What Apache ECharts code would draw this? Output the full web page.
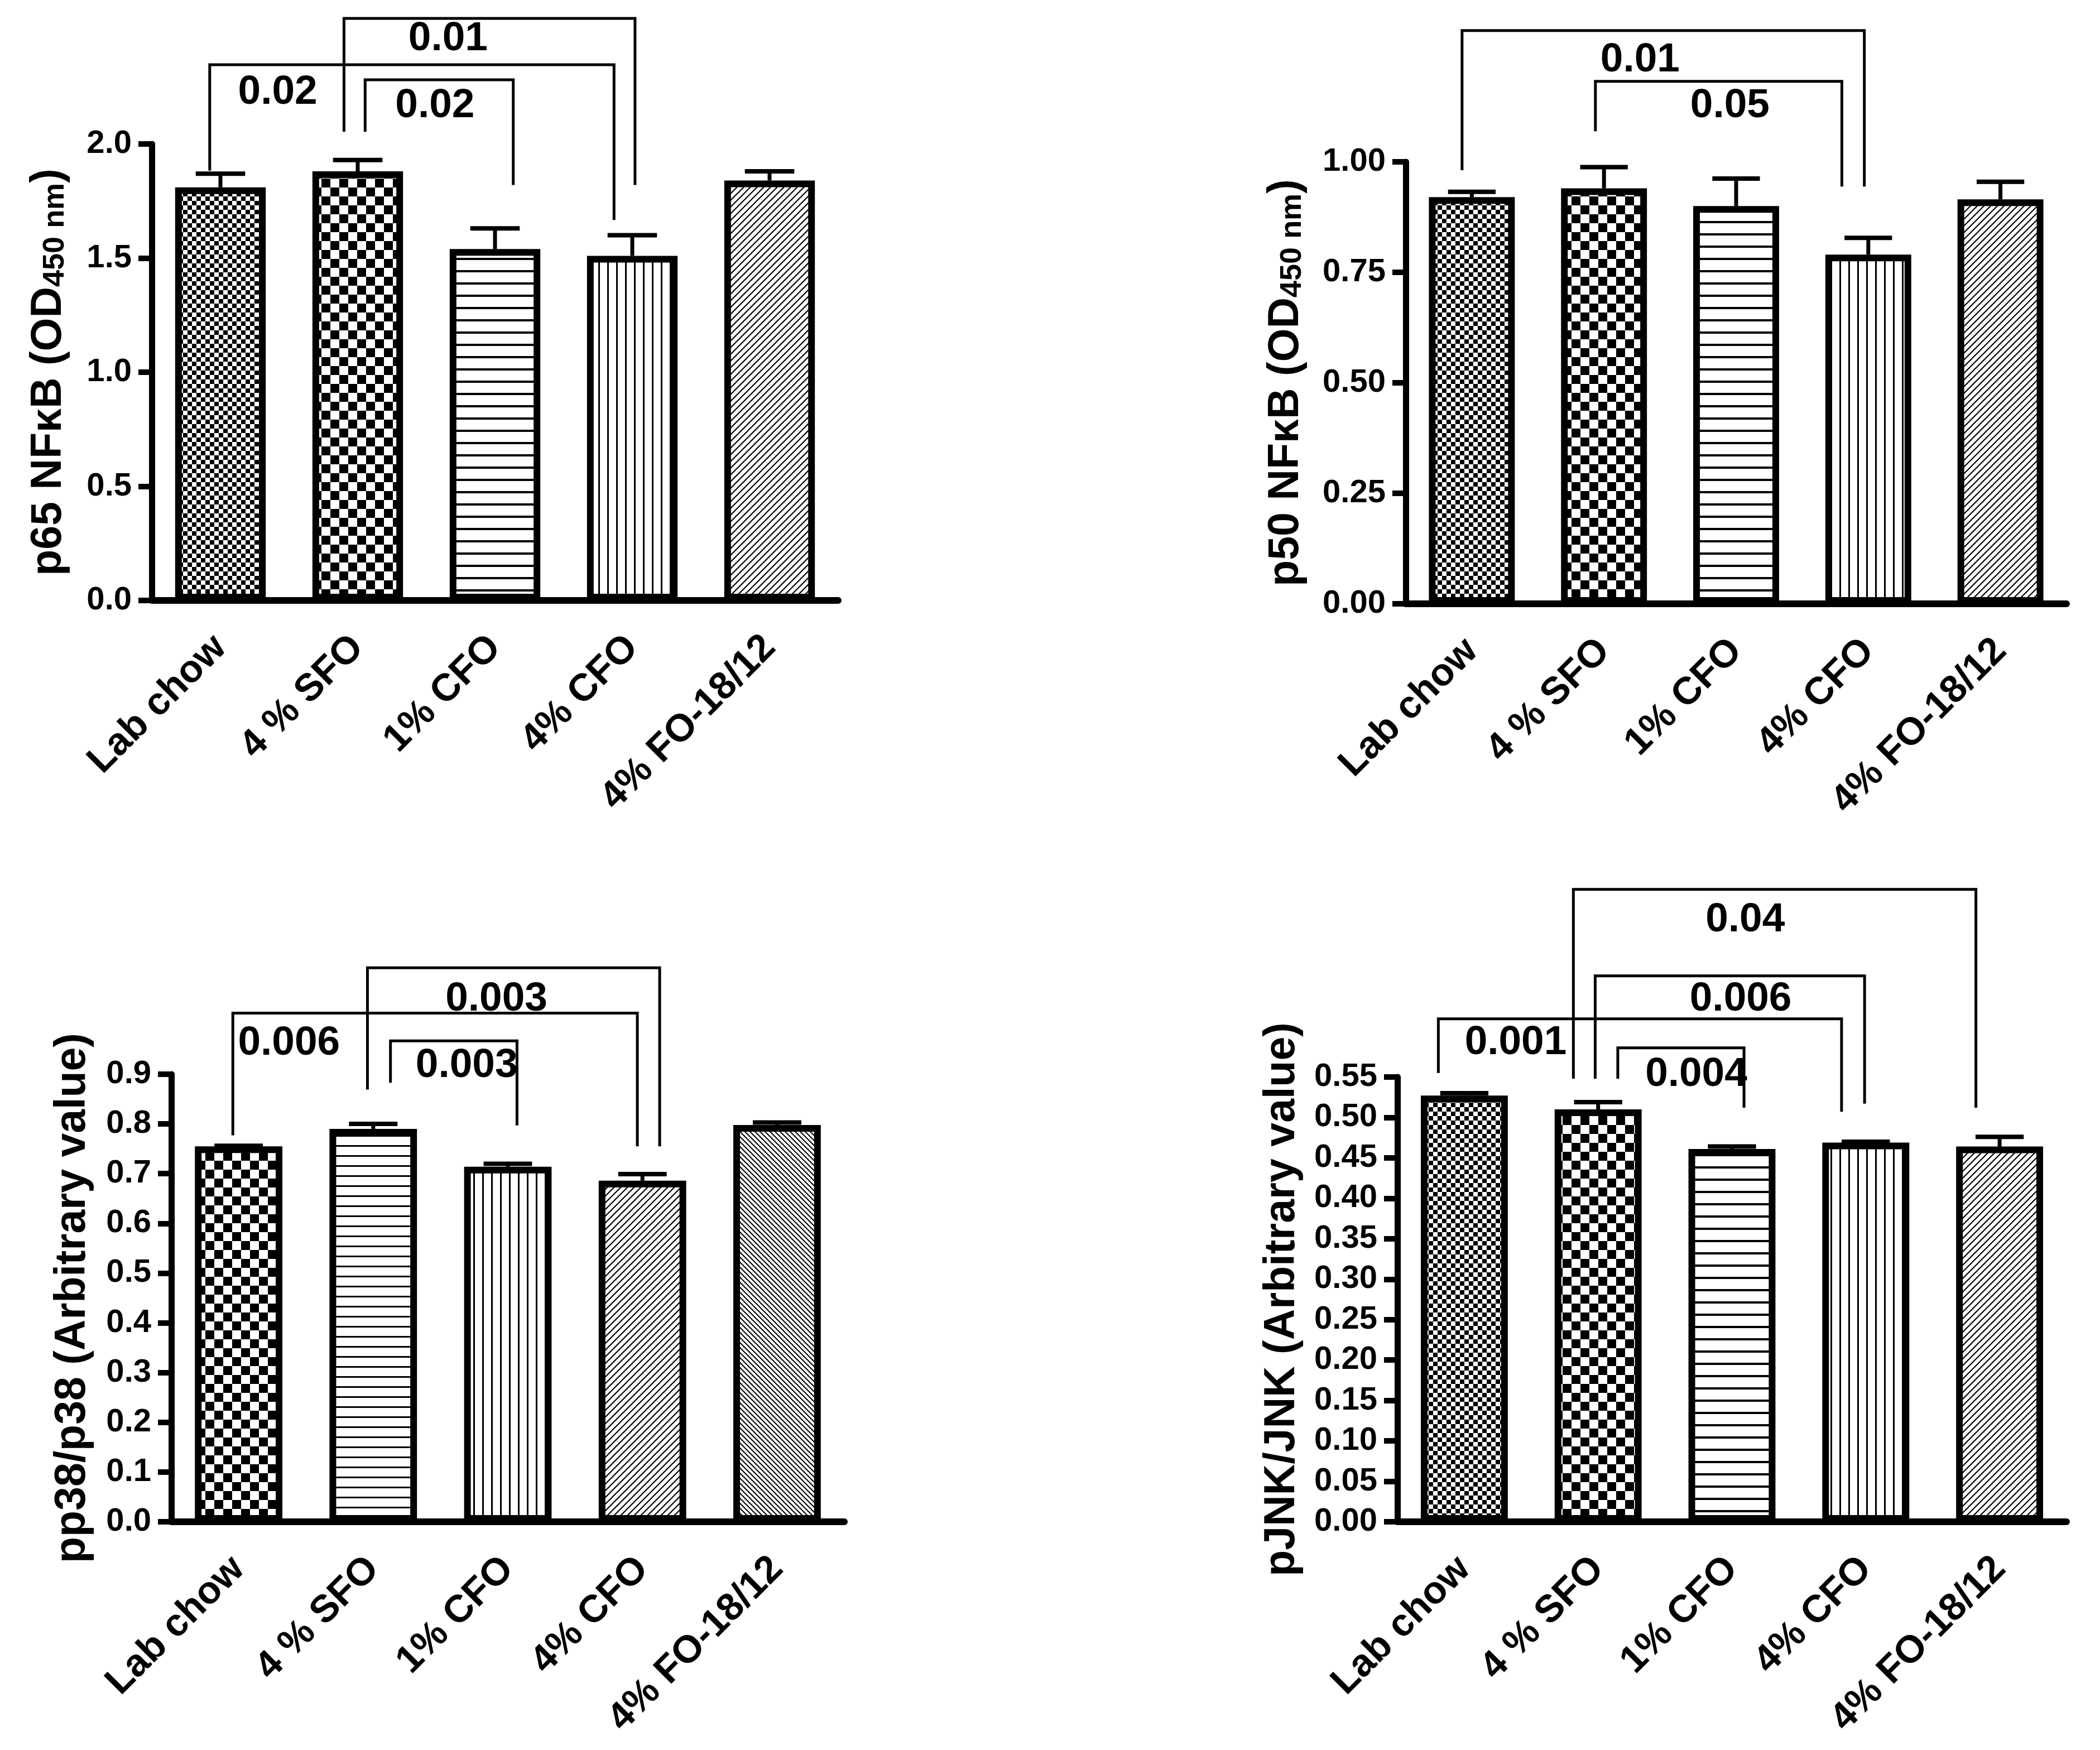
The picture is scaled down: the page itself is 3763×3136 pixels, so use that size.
<!DOCTYPE html>
<html lang="en">
<head>
<meta charset="UTF-8">
<title>NFkB / MAPK bar charts</title>
<style>
  html, body { margin: 0; padding: 0; background: #fff; }
  #main { width: 3763px; height: 3136px; }
</style>
</head>
<body>
<div id="main"></div>
<script src="https://cdn.jsdelivr.net/npm/echarts@6/dist/echarts.min.js"></script>
<script>
// ---- data ----
var categories = ['Lab chow', '4 % SFO', '1% CFO', '4% CFO', '4% FO-18/12'];

var p65Mean = [1.81, 1.88, 1.54, 1.51, 1.84];
var p65Sem = [0.06, 0.05, 0.09, 0.09, 0.04];
var p65Ticks = ['0.0', '0.5', '1.0', '1.5', '2.0'];
var p65Pairs = [[0, 3], [1, 3], [1, 2]];
var p65P = ['0.02', '0.01', '0.02'];

var p50Mean = [0.92, 0.94, 0.90, 0.79, 0.915];
var p50Sem = [0.012, 0.048, 0.062, 0.038, 0.04];
var p50Ticks = ['0.00', '0.25', '0.50', '0.75', '1.00'];
var p50Pairs = [[0, 3], [1, 3]];
var p50P = ['0.01', '0.05'];

var p38Mean = [0.755, 0.79, 0.714, 0.686, 0.798];
var p38Sem = [0.001, 0.01, 0.006, 0.013, 0.005];
var p38Ticks = ['0.0', '0.1', '0.2', '0.3', '0.4', '0.5', '0.6', '0.7', '0.8', '0.9'];
var p38Pairs = [[0, 3], [1, 3], [1, 2]];
var p38P = ['0.006', '0.003', '0.003'];

var jnkMean = [0.527, 0.51, 0.461, 0.469, 0.464];
var jnkSem = [0.003, 0.009, 0.003, 0.001, 0.012];
var jnkTicks = ['0.00', '0.05', '0.10', '0.15', '0.20', '0.25', '0.30', '0.35', '0.40', '0.45', '0.50', '0.55'];
var jnkPairs = [[1, 4], [1, 3], [0, 3], [1, 2]];
var jnkP = ['0.04', '0.006', '0.001', '0.004'];

// ---- hatch fills ----
function makeCanvas(w, h) {
    var c = document.createElement('canvas');
    c.width = w; c.height = h;
    var ctx = c.getContext('2d');
    ctx.fillStyle = '#fff';
    ctx.fillRect(0, 0, w, h);
    ctx.fillStyle = '#000';
    ctx.strokeStyle = '#000';
    return { c: c, ctx: ctx };
}
function checker(cell) {
    var k = makeCanvas(cell * 2, cell * 2);
    k.ctx.fillRect(0, 0, cell, cell);
    k.ctx.fillRect(cell, cell, cell, cell);
    return k.c;
}
function hLines(period, w) {
    var k = makeCanvas(8, period);
    k.ctx.fillRect(0, 0, 8, w);
    return k.c;
}
function vLines(period, w) {
    var k = makeCanvas(period, 8);
    k.ctx.fillRect(0, 0, w, 8);
    return k.c;
}
function diag(period, w, up) {
    var k = makeCanvas(period, period);
    var ctx = k.ctx, p = period;
    ctx.lineWidth = w;
    ctx.beginPath();
    if (up) {
        ctx.moveTo(-p, p * 2); ctx.lineTo(p * 2, -p);
        ctx.moveTo(-p, p); ctx.lineTo(p, -p);
        ctx.moveTo(0, p * 2); ctx.lineTo(p * 2, 0);
    } else {
        ctx.moveTo(-p, -p); ctx.lineTo(p * 2, p * 2);
        ctx.moveTo(-p, 0); ctx.lineTo(p, p * 2);
        ctx.moveTo(0, -p); ctx.lineTo(p * 2, p);
    }
    ctx.stroke();
    return k.c;
}
var fills = {
    fine: checker(8),
    coarse: checker(16),
    hline: hLines(22, 4),
    hlineB: hLines(18, 3),
    vline: vLines(16, 3),
    diagUp: diag(12, 2.2, true),
    diagDown: diag(9, 2, false)
};

var FONT = '"Liberation Sans", Arial, Helvetica, sans-serif';

var panels = [
    {
        grid: { left: 272, top: 258, width: 1230, height: 818 },
        max: 2, interval: 0.5, ticks: p65Ticks, barWidth: '66%',
        name: '{a|p65 NFκB (OD}{s|450 nm}{a|)}', nameGap: 146,
        mean: p65Mean, sem: p65Sem, pairs: p65Pairs, pText: p65P,
        fill: ['fine', 'coarse', 'hline', 'vline', 'diagUp'],
        // bracket level, leg ends, leg offsets (band), label position (band index, value)
        marks: [
            { level: 2.347, ends: [1.883, 1.667], off: [-0.078, -0.133], at: [0.417, 2.225] },
            { level: 2.550, ends: [2.054, 1.82], off: [-0.10, 0.02], at: [1.658, 2.459] },
            { level: 2.281, ends: [2.054, 1.82], off: [0.054, 0.133], at: [1.5625, 2.166] }
        ]
    },
    {
        grid: { left: 2519, top: 290, width: 1184, height: 792 },
        max: 1, interval: 0.25, ticks: p50Ticks, barWidth: '65%',
        name: '{a|p50 NFκB (OD}{s|450 nm}{a|)}', nameGap: 176,
        mean: p50Mean, sem: p50Sem, pairs: p50Pairs, pText: p50P,
        fill: ['fine', 'coarse', 'hline', 'vline', 'diagUp'],
        marks: [
            { level: 1.297, ends: [0.981, 0.944], off: [-0.074, -0.03], at: [1.273, 1.230] },
            { level: 1.182, ends: [1.069, 0.944], off: [-0.065, -0.2], at: [1.953, 1.127] }
        ]
    },
    {
        grid: { left: 307, top: 1925, width: 1206, height: 802 },
        max: 0.9, interval: 0.1, ticks: p38Ticks, barWidth: '65%',
        name: '{a|pp38/p38 (Arbitrary value)}', nameGap: 138,
        mean: p38Mean, sem: p38Sem, pairs: p38Pairs, pText: p38P,
        fill: ['coarse', 'hlineB', 'vline', 'diagUp', 'diagDown'],
        marks: [
            { level: 1.0228, ends: [0.777, 0.755], off: [-0.043, -0.038], at: [0.374, 0.962] },
            { level: 1.114, ends: [0.869, 0.755], off: [-0.043, 0.128], at: [1.915, 1.051] },
            { level: 0.967, ends: [0.883, 0.797], off: [0.128, 0.068], at: [1.694, 0.917] }
        ]
    },
    {
        grid: { left: 2504, top: 1930, width: 1199, height: 797 },
        max: 0.55, interval: 0.05, ticks: jnkTicks, barWidth: '65%',
        name: '{a|pJNK/JNK (Arbitrary value)}', nameGap: 168,
        mean: jnkMean, sem: jnkSem, pairs: jnkPairs, pText: jnkP,
        fill: ['fine', 'coarse', 'hline', 'vline', 'diagUp'],
        marks: [
            { level: 0.782, ends: [0.548, 0.512], off: [-0.185, -0.177], at: [2.099, 0.744] },
            { level: 0.675, ends: [0.548, 0.517], off: [-0.022, -0.009], at: [2.065, 0.646] },
            { level: 0.622, ends: [0.555, 0.507], off: [-0.194, -0.181], at: [0.384, 0.592] },
            { level: 0.586, ends: [0.548, 0.512], off: [0.147, 0.09], at: [1.733, 0.553] }
        ]
    }
];

function errorBarItem(params, api) {
    var idx = api.value(0), m = api.value(1), e = api.value(2);
    var band = api.size([1, 0])[0];
    var p0 = api.coord([idx, m]);
    var p1 = api.coord([idx, m + e]);
    var half = band * 0.18;
    return {
        type: 'group',
        children: [
            { type: 'line', shape: { x1: p0[0], y1: p0[1], x2: p1[0], y2: p1[1] },
              style: { stroke: '#000', lineWidth: 7 } },
            { type: 'line', shape: { x1: p1[0] - half, y1: p1[1], x2: p1[0] + half, y2: p1[1] },
              style: { stroke: '#000', lineWidth: 8 } }
        ]
    };
}

function bracketRenderer(panel) {
    return function (params, api) {
        var i = params.dataIndex;
        var mk = panel.marks[i];
        var from = api.value(0), to = api.value(1);
        var band = api.size([1, 0])[0];
        var a = api.coord([from, mk.level]);
        var b = api.coord([to, mk.level]);
        var x1 = a[0] + mk.off[0] * band;
        var x2 = b[0] + mk.off[1] * band;
        var y1 = api.coord([from, mk.ends[0]])[1];
        var y2 = api.coord([to, mk.ends[1]])[1];
        var t0 = api.coord([0, mk.at[1]]);
        return {
            type: 'group',
            children: [
                { type: 'polyline', shape: { points: [[x1, y1], [x1, a[1]], [x2, a[1]], [x2, y2]] },
                  style: { stroke: '#000', lineWidth: 5, fill: null } },
                { type: 'text', x: t0[0] + mk.at[0] * band, y: t0[1],
                  style: { text: panel.pText[i], fontSize: 73, fontWeight: 'bold', fontFamily: FONT,
                           fill: '#000', align: 'center', verticalAlign: 'middle' } }
            ]
        };
    };
}

var option = { animation: false, backgroundColor: '#fff', grid: [], xAxis: [], yAxis: [], series: [] };

panels.forEach(function (pn, k) {
    option.grid.push(Object.assign({ outerBoundsMode: 'none', containLabel: false }, pn.grid));
    option.xAxis.push({
        type: 'category', gridIndex: k, data: categories,
        axisLine: { lineStyle: { color: '#000', width: 12 } },
        axisTick: { alignWithLabel: true, length: 20, lineStyle: { color: '#000', width: 11 } },
        axisLabel: { interval: 0, rotate: 45, margin: 74, fontSize: 69, fontWeight: 'bold',
                     fontFamily: FONT, color: '#000' },
        splitLine: { show: false }
    });
    option.yAxis.push({
        type: 'value', gridIndex: k, min: 0, max: pn.max, interval: pn.interval,
        name: pn.name, nameLocation: 'middle', nameGap: pn.nameGap, nameRotate: 90,
        nameTextStyle: {
            color: '#000', fontFamily: FONT,
            rich: {
                a: { fontSize: 77, fontWeight: 'bold', fontFamily: FONT, color: '#000', verticalAlign: 'bottom' },
                s: { fontSize: 54, fontWeight: 'bold', fontFamily: FONT, color: '#000', verticalAlign: 'bottom' }
            }
        },
        axisLine: { show: true, lineStyle: { color: '#000', width: 11 } },
        axisTick: { show: true, length: 24, lineStyle: { color: '#000', width: 10 } },
        axisLabel: {
            margin: 36, fontSize: 58, fontWeight: 'bold', fontFamily: FONT, color: '#000',
            formatter: (function (ticks) { return function (v, idx) { return ticks[idx]; }; })(pn.ticks)
        },
        splitLine: { show: false }
    });
    option.series.push({
        type: 'bar', xAxisIndex: k, yAxisIndex: k, barWidth: pn.barWidth,
        data: pn.mean.map(function (v, i) {
            return { value: v, itemStyle: { color: { image: fills[pn.fill[i]], repeat: 'repeat' },
                                            borderColor: '#000', borderWidth: 12 } };
        }),
        z: 3
    });
    option.series.push({
        type: 'custom', xAxisIndex: k, yAxisIndex: k, clip: false, z: 4,
        renderItem: errorBarItem,
        encode: { x: 0, y: 1 },
        data: pn.mean.map(function (v, i) { return [i, v, pn.sem[i]]; })
    });
    option.series.push({
        type: 'custom', xAxisIndex: k, yAxisIndex: k, clip: false, z: 5,
        renderItem: bracketRenderer(pn),
        encode: { x: 0, y: 1 },
        data: pn.pairs.map(function (pr) { return [pr[0], pr[1]]; })
    });
});

var chart = echarts.init(document.getElementById('main'), null, { renderer: 'canvas' });
chart.setOption(option);
</script>
</body>
</html>
